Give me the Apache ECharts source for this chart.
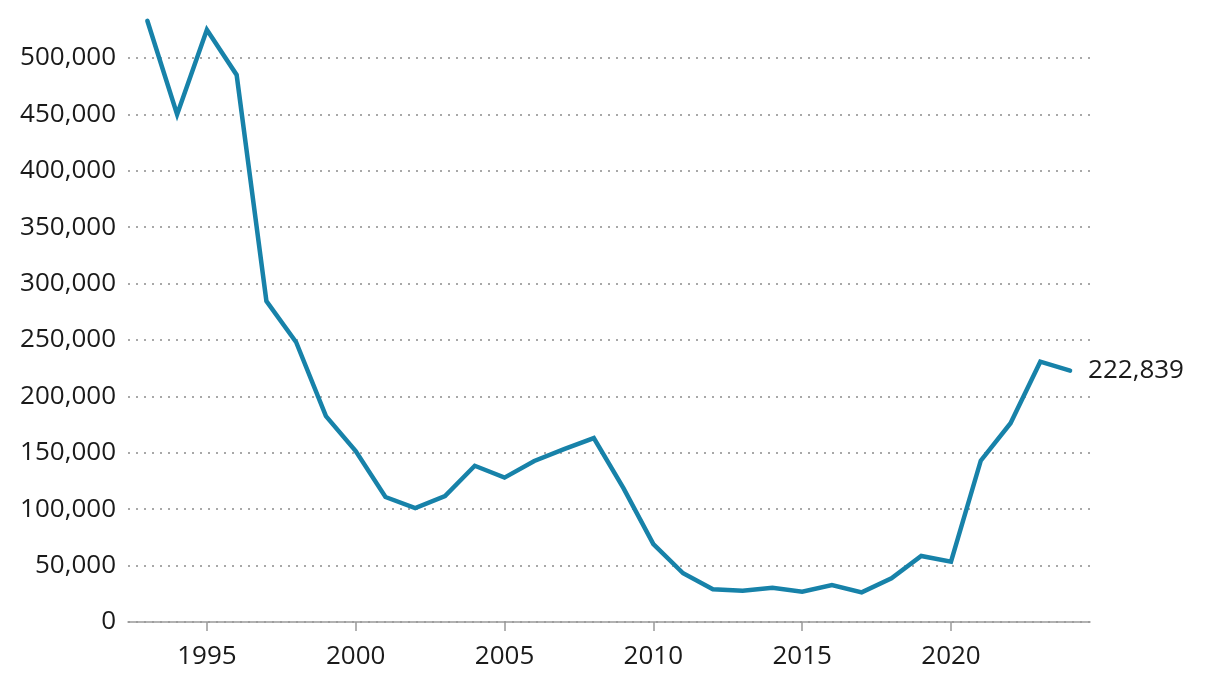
<!DOCTYPE html>
<html>
<head>
<meta charset="utf-8">
<script src="https://cdn.jsdelivr.net/npm/echarts@6/dist/echarts.min.js"></script>
<style>
html,body{margin:0;padding:0;background:#fff;}
#chart{width:1220px;height:686px;}
</style>
</head>
<body>
<div id="chart"></div>
<script>
const years = [1993,1994,1995,1996,1997,1998,1999,2000,2001,2002,2003,2004,2005,2006,2007,2008,2009,2010,2011,2012,2013,2014,2015,2016,2017,2018,2019,2020,2021,2022,2023,2024];
const values = [533000,450000,525000,485000,284500,248000,182500,151500,110800,101000,111700,138500,128000,142700,153200,163000,118500,69000,43200,29000,27800,30400,26900,32800,26300,38700,58500,53500,143000,176200,230800,222839];
const xTickYears = [1995,2000,2005,2010,2015,2020];
const yTicks = [0,50000,100000,150000,200000,250000,300000,350000,400000,450000,500000];

const fmt = v => Number(v).toLocaleString('en-US');
const FONT = '"Open Sans"';
const FS = 26;
const chart = echarts.init(document.getElementById('chart'));
chart.setOption({
  animation:false,
  backgroundColor:'#fff',
  grid:{left:128,right:130,top:58,bottom:64,containLabel:false},
  xAxis:{
    type:'value',
    min:1992.35, max:2024.67,
    splitLine:{show:false},
    axisLine:{show:true,lineStyle:{color:'#999',width:1.5}},
    axisTick:{show:true,customValues:xTickYears,length:9,lineStyle:{color:'#999',width:1.5}},
    axisLabel:{customValues:xTickYears,formatter:v=>String(v),fontFamily:FONT,fontSize:FS,color:'#1a1a1a',margin:22}
  },
  yAxis:{
    type:'value',
    min:0,max:yTicks[yTicks.length-1],interval:50000,
    axisLine:{show:false},
    axisTick:{show:false},
    splitLine:{show:true,lineStyle:{color:'#a8a8a8',width:1.8,type:[2,6]}},
    axisLabel:{formatter:v=>fmt(v),fontFamily:FONT,fontSize:FS,color:'#1a1a1a',margin:12}
  },
  series:[{
    type:'line',
    data:years.map((y,i)=>[y,values[i]]),
    clip:false,
    symbol:'none',
    lineStyle:{color:'#1782a9',width:4.5,cap:'round',join:'miter'},
    endLabel:{show:true,formatter:p=>fmt(p.value[1]),fontFamily:FONT,fontSize:FS,color:'#1a1a1a',distance:18}
  }]
});
</script>
</body>
</html>
